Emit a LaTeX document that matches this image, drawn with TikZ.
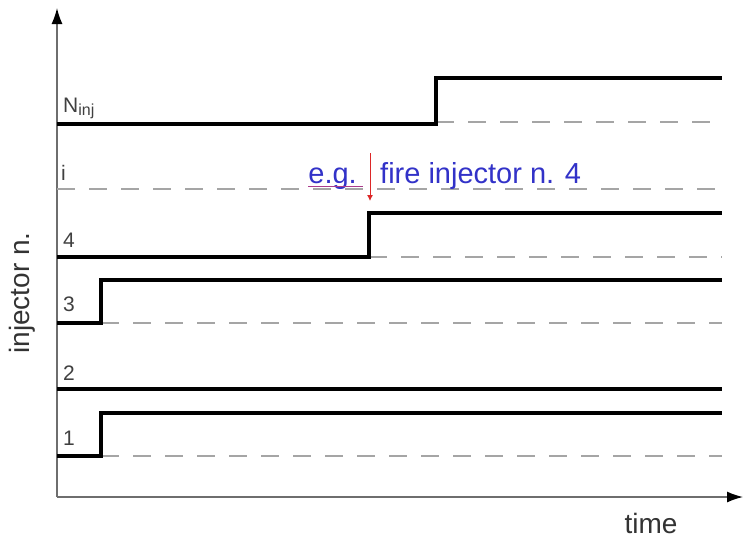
\documentclass[tikz,border=0pt]{standalone}
\usepackage{fontspec}
\setmainfont{Liberation Sans}
\usetikzlibrary{arrows.meta}
\definecolor{axisgray}{RGB}{110,110,110}
\definecolor{dashgray}{RGB}{165,165,165}
\definecolor{noteblue}{RGB}{50,50,200}
\definecolor{notered}{RGB}{220,40,40}
\definecolor{underlinecol}{RGB}{170,60,140}
\tikzset{
  axis/.style={axisgray, line width=1.4pt, -{Latex[length=16pt,width=11pt,black]}},
  signal/.style={black, line width=3.6pt, line join=miter},
  idle/.style={dashgray, line width=2pt, dash pattern=on 18pt off 14pt},
  lvl/.style={anchor=base west, font=\fontsize{21}{23}\selectfont, text=black!75, inner sep=0pt},
  axlabel/.style={font=\fontsize{28}{32}\selectfont, text=black!80, inner sep=0pt},
  note/.style={font=\fontsize{29}{32}\selectfont, text=noteblue, inner sep=0pt}
}
\begin{document}
\begin{tikzpicture}[x=1pt,y=-1pt]
\useasboundingbox (0,0) rectangle (743,544);

% axes
\coordinate (o) at (57,497);
\coordinate (ytip) at (57,8);
\coordinate (xtip) at (743,497);
\draw[axis] (o) -- (ytip);
\draw[axis] (o) -- (xtip);
\node[axlabel, rotate=90] (ylab) at (22,293) {injector n.};
\node[axlabel, anchor=base] (xlab) at (651,533) {time};

% idle (not fired) continuation lines
\draw[idle] (436,122) -- (722,122);
\draw[idle] (57,189) -- (722,189);
\draw[idle] (369,257) -- (722,257);
\draw[idle] (101,323) -- (722,323);
\draw[idle] (101,456) -- (722,456);

% injector signals
\draw[signal] (57,124) -- (436,124) -- (436,78) -- (722,78);
\draw[signal] (57,257) -- (369,257) -- (369,213) -- (722,213);
\draw[signal] (57,323) -- (101,323) -- (101,280) -- (722,280);
\draw[signal] (57,389) -- (722,389);
\draw[signal] (57,456) -- (101,456) -- (101,413) -- (722,413);

% level labels
\node[lvl] (lninj) at (63,112) {N\raisebox{-3pt}{\fontsize{16}{18}\selectfont inj}};
\node[lvl] (li) at (61,180) {i};
\node[lvl] (l4) at (63,247) {4};
\node[lvl] (l3) at (63,311) {3};
\node[lvl] (l2) at (63,380) {2};
\node[lvl] (l1) at (63,445) {1};

% annotation
\node[note, anchor=base east] (eg) at (357,183) {e.g.};
\draw[underlinecol, line width=1pt] ([yshift=-3pt]eg.base west) -- ([yshift=-3pt,xshift=6pt]eg.base east);
\node[note, anchor=base west] (fire) at (380,183) {fire injector n. 4};
\coordinate (mstart) at (370,153);
\coordinate (mend) at (370,201);
\draw[notered, line width=0.9pt, -{Latex[length=6pt,width=6pt]}] (mstart) -- (mend);
\end{tikzpicture}
\end{document}
